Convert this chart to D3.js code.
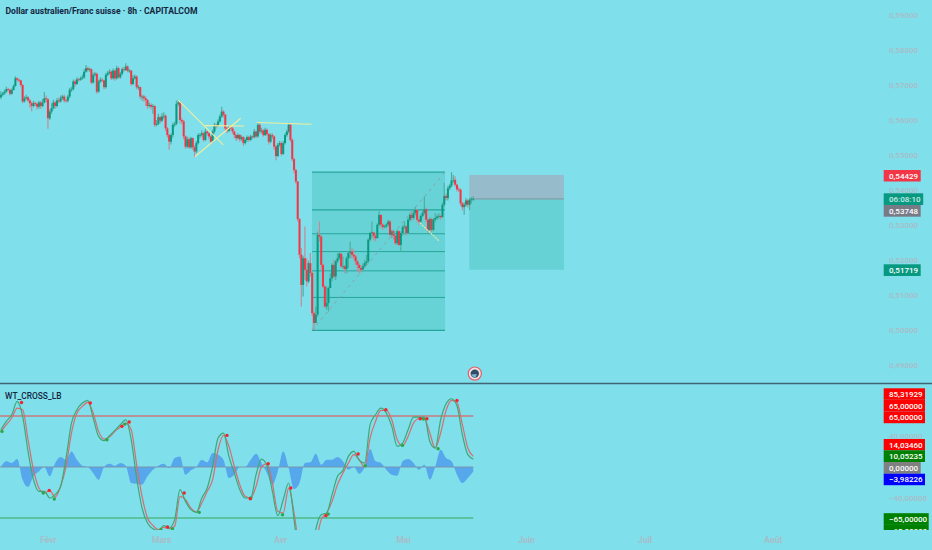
<!DOCTYPE html>
<html>
<head>
<meta charset="utf-8">
<script src="https://d3js.org/d3.v7.min.js"></script>
<style>
  html, body { margin: 0; padding: 0; background: #7fdfeb; overflow: hidden; }
  text { font-family: Roboto, "Open Sans", sans-serif; }
</style>
</head>
<body>
<svg id="chart" width="932" height="550"></svg>
<script>
// candles, one per 8h, open is the previous close
const firstOpen = .5665;
const closes = [
  .5672,.5676,.5681,.5688,.5686,.5675,.5686,.5697,.5719,.5715,.5713,.5700,.5653,.5662,.5665,.5656,.5648,.5640,.5648,.5646,
  .5638,.5650,.5640,.5650,.5662,.5659,.5605,.5624,.5634,.5650,.5640,.5656,.5653,.5662,.5667,.5656,.5655,.5667,.5686,.5688,
  .5710,.5703,.5716,.5715,.5719,.5722,.5738,.5748,.5743,.5745,.5707,.5729,.5732,.5681,.5710,.5715,.5713,.5694,.5729,.5734,
  .5738,.5719,.5741,.5719,.5748,.5722,.5732,.5745,.5743,.5753,.5741,.5741,.5703,.5719,.5724,.5694,.5694,.5667,.5667,.5662,
  .5657,.5640,.5643,.5638,.5640,.5586,.5589,.5608,.5598,.5610,.5612,.5576,.5557,.5538,.5557,.5586,.5589,.5646,.5650,.5600,
  .5596,.5553,.5524,.5545,.5522,.5548,.5522,.5510,.5534,.5557,.5557,.5562,.5543,.5567,.5562,.5553,.5538,.5567,.5586,.5583,
  .5596,.5610,.5624,.5615,.5576,.5569,.5579,.5576,.5567,.5557,.5548,.5557,.5545,.5551,.5534,.5543,.5551,.5543,.5553,.5551,
  .5567,.5553,.5586,.5567,.5570,.5557,.5572,.5560,.5538,.5557,.5553,.5524,.5497,.5529,.5534,.5503,.5534,.5557,.5567,.5586,
  .5543,.5488,.5457,.5424,.5317,.5215,.5129,.5205,.5172,.5139,.5191,.5163,.5048,.5020,.5044,.5272,.5267,.5186,.5124,.5067,
  .5077,.5120,.5148,.5186,.5153,.5196,.5205,.5218,.5182,.5182,.5174,.5205,.5220,.5224,.5215,.5210,.5196,.5186,.5177,.5172,
  .5182,.5191,.5196,.5258,.5277,.5279,.5269,.5262,.5301,.5329,.5301,.5294,.5296,.5301,.5310,.5272,.5282,.5269,.5248,.5282,
  .5243,.5277,.5294,.5296,.5277,.5315,.5329,.5320,.5334,.5343,.5315,.5310,.5326,.5334,.5345,.5315,.5286,.5317,.5286,.5315,
  .5320,.5324,.5326,.5322,.5358,.5383,.5377,.5405,.5412,.5427,.5429,.5415,.5402,.5401,.5362,.5351,.5358,.5370,.5358,.5372,
  .5374,.5375
];
const highs = [
  .5682,.5680,.5687,.5695,.5692,.5690,.5690,.5702,.5725,.5722,.5718,.5715,.5702,.5668,.5672,.5668,.5660,.5652,.5655,.5652,
  .5650,.5655,.5654,.5660,.5680,.5670,.5662,.5630,.5648,.5658,.5655,.5662,.5665,.5670,.5672,.5672,.5660,.5672,.5692,.5695,
  .5716,.5715,.5722,.5720,.5724,.5730,.5745,.5757,.5752,.5750,.5748,.5735,.5738,.5736,.5716,.5722,.5720,.5716,.5735,.5740,
  .5745,.5742,.5747,.5744,.5755,.5752,.5738,.5750,.5752,.5762,.5756,.5746,.5743,.5728,.5730,.5728,.5700,.5696,.5672,.5672,
  .5668,.5660,.5650,.5648,.5646,.5642,.5600,.5618,.5612,.5620,.5622,.5616,.5580,.5560,.5562,.5592,.5596,.5655,.5658,.5652,
  .5606,.5600,.5556,.5552,.5550,.5552,.5550,.5528,.5540,.5562,.5563,.5570,.5565,.5575,.5570,.5565,.5556,.5572,.5592,.5590,
  .5602,.5616,.5638,.5628,.5618,.5580,.5585,.5584,.5580,.5570,.5560,.5562,.5560,.5556,.5554,.5548,.5556,.5555,.5558,.5556,
  .5574,.5570,.5594,.5590,.5578,.5574,.5578,.5576,.5562,.5562,.5562,.5556,.5528,.5534,.5540,.5538,.5540,.5562,.5572,.5592,
  .5590,.5548,.5492,.5460,.5426,.5320,.5234,.5212,.5296,.5205,.5198,.5220,.5167,.5052,.5067,.5281,.5310,.5270,.5190,.5128,
  .5124,.5124,.5162,.5191,.5201,.5201,.5220,.5224,.5220,.5210,.5186,.5210,.5224,.5253,.5234,.5229,.5215,.5201,.5191,.5186,
  .5191,.5201,.5215,.5262,.5281,.5310,.5281,.5277,.5305,.5339,.5329,.5305,.5301,.5305,.5315,.5314,.5287,.5286,.5272,.5287,
  .5286,.5282,.5300,.5310,.5300,.5320,.5335,.5340,.5343,.5352,.5346,.5318,.5330,.5340,.5381,.5350,.5318,.5322,.5320,.5320,
  .5334,.5330,.5334,.5330,.5364,.5421,.5390,.5412,.5418,.5451,.5443,.5439,.5418,.5408,.5404,.5366,.5364,.5377,.5374,.5378,
  .5380,.5382
];
const lows = [
  .5660,.5668,.5672,.5678,.5682,.5670,.5672,.5684,.5695,.5710,.5708,.5695,.5648,.5650,.5658,.5652,.5635,.5625,.5636,.5640,
  .5630,.5632,.5632,.5636,.5648,.5650,.5575,.5600,.5618,.5630,.5632,.5636,.5648,.5650,.5658,.5650,.5650,.5650,.5662,.5680,
  .5684,.5695,.5700,.5710,.5712,.5715,.5718,.5735,.5738,.5738,.5702,.5704,.5724,.5675,.5678,.5706,.5708,.5688,.5690,.5725,
  .5730,.5714,.5716,.5712,.5716,.5718,.5718,.5728,.5738,.5740,.5736,.5735,.5698,.5700,.5716,.5688,.5686,.5660,.5655,.5652,
  .5640,.5632,.5636,.5630,.5618,.5580,.5582,.5585,.5590,.5594,.5602,.5568,.5550,.5515,.5530,.5550,.5580,.5585,.5640,.5590,
  .5588,.5545,.5518,.5520,.5518,.5518,.5515,.5494,.5505,.5530,.5548,.5552,.5538,.5540,.5555,.5546,.5532,.5535,.5562,.5576,
  .5580,.5592,.5606,.5608,.5570,.5562,.5565,.5570,.5560,.5548,.5540,.5544,.5538,.5540,.5526,.5530,.5538,.5538,.5540,.5546,
  .5548,.5548,.5550,.5560,.5562,.5552,.5554,.5555,.5530,.5534,.5546,.5515,.5485,.5494,.5524,.5498,.5500,.5530,.5552,.5562,
  .5538,.5482,.5448,.5418,.5310,.5205,.5067,.5096,.5143,.5124,.5134,.5153,.5041,.5000,.5034,.5038,.5253,.5172,.5120,.5063,
  .5058,.5053,.5124,.5139,.5148,.5143,.5191,.5201,.5177,.5174,.5162,.5162,.5177,.5205,.5205,.5201,.5186,.5167,.5162,.5164,
  .5167,.5177,.5186,.5191,.5253,.5262,.5256,.5253,.5277,.5296,.5291,.5286,.5291,.5291,.5296,.5267,.5262,.5258,.5243,.5243,
  .5239,.5224,.5270,.5288,.5270,.5274,.5310,.5312,.5315,.5328,.5308,.5300,.5306,.5322,.5330,.5308,.5278,.5282,.5280,.5282,
  .5308,.5315,.5318,.5316,.5347,.5352,.5370,.5370,.5400,.5408,.5420,.5410,.5396,.5394,.5355,.5342,.5329,.5352,.5350,.5343,
  .5362,.5368
];

// oscillator, one sample every third bar
const wtStep = 3;
const wt1 = [
  47.5,58.1,66.6,83.6,64.5,19.9,-16.2,-31,-31,-39.5,-35.3,-24.7,11.4,56,73,81.5,84.9,62.4,39,33.5,
  39.9,46.7,53.9,60.2,34.8,-14,-52.3,-71.4,-78.6,-80.7,-74.8,-77.8,-67.1,-28.9,-43.8,-54.4,-57.8,-39.5,-26.8,0.8,
  36.9,43.3,13.5,-7.7,-28.9,-39.5,-39.5,-9.8,10.1,1.7,-31,-62,-41.7,-20.4,-67.1,-126.6,-152,-126.6,-79.9,-60.8,
  -58.6,-35.3,-11.9,-4.3,13.5,19.9,8.4,5,53.9,66.6,75.1,68.7,51.8,26.3,30.5,47.5,63.6,63.6,63.6,32.6,
  24.2,60.2,80.6,87,78.1,41.1,15.7,10.1
];
const wt2 = [
  45.4,53.9,62.4,75.1,73,34.8,-3.4,-26.8,-33.2,-30.2,-38.3,-24.7,0.8,43.3,68.7,77.2,82.3,68.7,45.4,35.6,
  38.2,45.4,50.9,56,47.5,2.9,-37.4,-65,-74.4,-79.9,-76.9,-78.6,-75.6,-37.4,-41.7,-52.3,-57.4,-45.9,-31,-16.2,
  22,40.3,26.3,0.8,-22.5,-37.4,-39.5,-24.7,0,4.2,-20.4,-56.5,-58.6,-26.8,-58.6,-109.6,-152,-143.6,-101.1,-67.1,
  -58.6,-43.8,-22.5,-7.7,5,15.7,9.3,0,36.9,58.1,72.1,72.1,60.2,34.8,27.1,39,56,61.5,61.5,43.3,
  24.2,43.3,72.1,84.9,82.3,53.9,24.2,13.5
];
const wtHist = [
  0,7.2,5.1,10.1,-16.2,-25.5,-11.9,-5.6,0,-11.9,5.1,12.7,9.3,19.9,9.3,1.7,0,-7.7,-16.2,0,
  4.2,1.7,5.1,1.7,-20.4,-21.3,-22.5,-11.9,-3.4,1.7,4.2,-1.3,11.4,13.5,-9.8,-4.3,0,9.3,5.9,17.8,
  15.7,9.3,-14,-9.8,0,0,9.3,17,5.1,-7.7,-22.5,-5.6,19.9,-1.3,-28.1,-20.4,5.1,5.9,17,2.9,
  9.3,9.3,12.7,7.2,-3.4,0,-8.5,0,22.9,7.2,5.1,-3.4,-9.8,-11.1,7.2,10.1,5.1,-3.4,2.9,-16.2,
  0,22,11.4,7.2,-9.8,-20.4,-14,-5.6
];
const redDotBars = [11.4,26.7,49.4,66.9,70.9,92.1,101.3,124.9,137.8,147.7,160.2,179.6,197.4,212.7,231.7,235.4,252];
const redDotValues = [82.3,-29.8,81.5,51.8,57.3,-76.5,-33.2,40.3,-40.4,4.2,-26.8,-62,16.5,73,61.5,61.5,84.9];
const greenDotBars = [0.6,23.4,29.5,58.6,68.5,88.4,94.8,109.6,138.1,155.6,180.9,201.3,221.9,233.5,241.6];
const greenDotValues = [45.4,-33.2,-40.8,34.8,54.7,-79.9,-78.6,-57.8,-39.5,-60.8,-60,1.7,27.5,61.1,23.3];

// drawings
const fibBars = [171.9, 245.4];
const fibLevels = [.5451, .5343, .5275, .5224, .5169, .5093, .4999];
const positionBars = [258.8, 311.1];
const positionPrices = [.54429, .53748, .51719];
const yellowLines = [
  { bars: [98, 122.9], prices: [.5657, .5529] },
  { bars: [107.2, 132.5], prices: [.5495, .5605] },
  { bars: [112.8, 134.3], prices: [.5584, .5583] },
  { bars: [141.3, 171.7], prices: [.5593, .5588] }
];
const dashedYellowBars = [231.5, 242];
const dashedYellowPrices = [.5306, .5255];

// axes
const priceTicks = [.59,.58,.57,.56,.55,.54,.53,.52,.51,.50,.49];
const wtTicks = [40, -40];
const monthBars = [26, 88.6, 154.3, 222.2, 290.2, 355.6, 426.6];
const monthLabels = ["Févr", "Mars", "Avr", "Mai", "Juin", "Juil", "Août"];

const red = "#f23645", teal = "#089981";
const axisGrey = "#a9bcc8";
const svg = d3.select("#chart");

const x = d3.scaleLinear().domain([0, 515]).range([0.9, 932.9]);
const y = d3.scaleLinear().domain([.49, .59]).range([365, 15]);
const yWt = d3.scaleLinear().domain([-65, 65]).range([518, 416]);

svg.append("rect").attr("width", 932).attr("height", 550).attr("fill", "#7fdfeb");

const defs = svg.append("defs");
defs.append("clipPath").attr("id", "pricePane").append("rect").attr("width", 932).attr("height", 383);
defs.append("clipPath").attr("id", "wtPane").append("rect").attr("y", 384).attr("width", 880).attr("height", 146);
defs.append("clipPath").attr("id", "tagPane").append("rect").attr("x", 880).attr("y", 384).attr("width", 52).attr("height", 146);

// axis labels go first, the price tags cover them
const priceAxis = svg.append("g")
    .attr("transform", "translate(889,0)")
    .call(d3.axisRight(y).tickValues(priceTicks).tickSize(0).tickFormat(d => d3.format(".5f")(d).replace(".", ",")));
priceAxis.select(".domain").remove();
priceAxis.selectAll("text").attr("x", 0).style("font-size", "8px").style("font-weight", 500).style("fill", axisGrey);

const wtAxis = svg.append("g")
    .attr("transform", "translate(889,0)")
    .call(d3.axisRight(yWt).tickValues(wtTicks).tickSize(0).tickFormat(d => d3.format(".5f")(d).replace(".", ",").replace("-", "−")));
wtAxis.select(".domain").remove();
wtAxis.selectAll("text").attr("x", 0).style("font-size", "8px").style("font-weight", 500).style("fill", axisGrey);

const timeAxis = svg.append("g")
    .attr("transform", "translate(0,535)")
    .call(d3.axisBottom(x).tickValues(monthBars).tickSize(0).tickFormat((d, i) => monthLabels[i]));
timeAxis.select(".domain").remove();
timeAxis.selectAll("text").attr("y", 2).style("font-size", "8.5px").style("font-weight", 700).style("fill", axisGrey);

// fib and position fills sit under the candles
const pricePane = svg.append("g").attr("clip-path", "url(#pricePane)");

pricePane.append("rect")
    .attr("x", x(fibBars[0]))
    .attr("y", y(fibLevels[0]))
    .attr("width", x(fibBars[1]) - x(fibBars[0]))
    .attr("height", y(fibLevels[6]) - y(fibLevels[0]))
    .attr("fill", "#67d3d6");

pricePane.append("rect")
    .attr("x", x(positionBars[0]))
    .attr("y", y(positionPrices[0]))
    .attr("width", x(positionBars[1]) - x(positionBars[0]))
    .attr("height", y(positionPrices[1]) - y(positionPrices[0]))
    .attr("fill", "#96bccb");

pricePane.append("rect")
    .attr("x", x(positionBars[0]))
    .attr("y", y(positionPrices[1]))
    .attr("width", x(positionBars[1]) - x(positionBars[0]))
    .attr("height", y(positionPrices[2]) - y(positionPrices[1]))
    .attr("fill", "#66d2d6");

pricePane.selectAll(".fib-line")
    .data(fibLevels)
    .join("line")
    .attr("class", "fib-line")
    .attr("x1", x(fibBars[0]))
    .attr("x2", x(fibBars[1]))
    .attr("y1", d => y(d))
    .attr("y2", d => y(d))
    .attr("stroke", "#26a69a")
    .attr("stroke-width", (d, i) => (i === 0 || i === 1 || i === 6) ? 1.3 : 1);

pricePane.append("line")
    .attr("x1", x(positionBars[0]))
    .attr("x2", x(positionBars[1]))
    .attr("y1", y(positionPrices[1]))
    .attr("y2", y(positionPrices[1]))
    .attr("stroke", "#8a9aa6")
    .attr("stroke-width", 1.2);

// candles
const opens = closes.map((c, i) => i === 0 ? firstOpen : closes[i - 1]);
const candleColor = i => closes[i] >= opens[i] ? teal : red;

pricePane.selectAll(".wick")
    .data(closes)
    .join("line")
    .attr("class", "wick")
    .attr("x1", (d, i) => x(i))
    .attr("x2", (d, i) => x(i))
    .attr("y1", (d, i) => y(highs[i]))
    .attr("y2", (d, i) => y(lows[i]))
    .attr("stroke", (d, i) => closes[i] >= opens[i] ? "#4fae9f" : "#c58a98")
    .attr("stroke-width", 1.2);

pricePane.selectAll(".body")
    .data(closes)
    .join("rect")
    .attr("class", "body")
    .attr("x", (d, i) => x(i) - 1)
    .attr("width", 2)
    .attr("y", (d, i) => y(Math.max(opens[i], closes[i])))
    .attr("height", (d, i) => Math.max(0.8, Math.abs(y(opens[i]) - y(closes[i]))))
    .attr("fill", (d, i) => candleColor(i));

// drawings on top of the candles
pricePane.append("line")
    .attr("x1", x(fibBars[0]))
    .attr("y1", y(fibLevels[6]))
    .attr("x2", x(fibBars[1]))
    .attr("y2", y(fibLevels[0]))
    .attr("stroke", "#8f9ea8")
    .attr("stroke-width", 1)
    .attr("stroke-dasharray", "3,4");

yellowLines.forEach(l => {
    pricePane.append("line")
        .attr("x1", x(l.bars[0]))
        .attr("y1", y(l.prices[0]))
        .attr("x2", x(l.bars[1]))
        .attr("y2", y(l.prices[1]))
        .attr("stroke", "#f2ee9c")
        .attr("stroke-width", 1.1);
});

pricePane.append("line")
    .attr("x1", x(dashedYellowBars[0]))
    .attr("y1", y(dashedYellowPrices[0]))
    .attr("x2", x(dashedYellowBars[1]))
    .attr("y2", y(dashedYellowPrices[1]))
    .attr("stroke", "#f2ee9c")
    .attr("stroke-width", 1.1)
    .attr("stroke-dasharray", "2,1");

// oscillator pane
const wtPane = svg.append("g").attr("clip-path", "url(#wtPane)");
const sampleBar = i => i * wtStep;

wtPane.append("path")
    .datum(wtHist)
    .attr("fill", "#4f9dec")
    .attr("fill-opacity", 0.85)
    .attr("d", d3.area()
        .x((d, i) => x(sampleBar(i)))
        .y0(yWt(0))
        .y1(d => yWt(d))
        .curve(d3.curveMonotoneX));

const zeroEnd = sampleBar(wt1.length - 1);
[
    { value: 65, color: "#ef4848" },
    { value: 0, color: "#7b95ad" },
    { value: -65, color: "#37a856" }
].forEach(l => {
    wtPane.append("line")
        .attr("x1", 0)
        .attr("x2", x(zeroEnd))
        .attr("y1", yWt(l.value))
        .attr("y2", yWt(l.value))
        .attr("stroke", l.color)
        .attr("stroke-width", 1.1);
});

const wtLine = d3.line()
    .x((d, i) => x(sampleBar(i)))
    .y(d => yWt(d))
    .curve(d3.curveMonotoneX);

wtPane.append("path").datum(wt2).attr("fill", "none").attr("stroke", "#dc6a72").attr("stroke-width", 1.2).attr("d", wtLine);
wtPane.append("path").datum(wt1).attr("fill", "none").attr("stroke", "#3fa876").attr("stroke-width", 1.2).attr("d", wtLine);

wtPane.selectAll(".green-dot")
    .data(greenDotBars)
    .join("circle")
    .attr("class", "green-dot")
    .attr("cx", d => x(d))
    .attr("cy", (d, i) => yWt(greenDotValues[i]))
    .attr("r", 1.7)
    .attr("fill", "#2aa84a");

wtPane.selectAll(".red-dot")
    .data(redDotBars)
    .join("circle")
    .attr("class", "red-dot")
    .attr("cx", d => x(d))
    .attr("cy", (d, i) => yWt(redDotValues[i]))
    .attr("r", 1.7)
    .attr("fill", "#f5222d");

// separator between panes
svg.append("line")
    .attr("x1", 0).attr("x2", 932)
    .attr("y1", 383.5).attr("y2", 383.5)
    .attr("stroke", "#3f6672")
    .attr("stroke-width", 1.5);

// titles
svg.append("text")
    .attr("x", 5.5).attr("y", 14)
    .style("font-size", "8.6px")
    .style("font-weight", 700)
    .style("fill", "#14263f")
    .text("Dollar australien/Franc suisse · 8h · CAPITALCOM");

svg.append("text")
    .attr("x", 5).attr("y", 398.5)
    .style("font-size", "8.4px")
    .style("font-weight", 500)
    .style("fill", "#14263f")
    .text("WT_CROSS_LB");

// price tags
function tag(parent, x0, width, yTop, height, color, label, textColor) {
    parent.append("rect")
        .attr("x", x0).attr("y", yTop)
        .attr("width", width).attr("height", height)
        .attr("fill", color);
    parent.append("text")
        .attr("x", 889)
        .attr("y", yTop + height / 2 + 3)
        .style("font-size", "8px")
        .style("font-weight", 500)
        .style("fill", textColor || "#ffffff")
        .text(label);
}

const priceTags = svg.append("g");
tag(priceTags, 883.7, 37, 170, 11.5, red, "0,54429");
tag(priceTags, 883.7, 39.5, 193.3, 11.7, teal, "06:08:10", "#c9ece6");
tag(priceTags, 883.7, 37, 205, 11.7, "#787b86", "0,53748");
tag(priceTags, 883.7, 37, 264.3, 11.7, teal, "0,51719");

const wtTags = svg.append("g").attr("clip-path", "url(#tagPane)");
tag(wtTags, 883.7, 41.3, 388.3, 11.5, "#ff0000", "85,31929");
tag(wtTags, 883.7, 41.3, 399.8, 11.7, "#ff0000", "65,00000");
tag(wtTags, 883.7, 41.3, 411.5, 11.7, "#ff0000", "65,00000");
tag(wtTags, 883.7, 41.3, 439, 11.3, "#ff0000", "14,03460");
tag(wtTags, 883.7, 41.3, 450.3, 11.7, "#008000", "10,05235");
tag(wtTags, 883.7, 37, 462, 11.7, "#808080", "0,00000");
tag(wtTags, 883.7, 41.3, 473.7, 11.5, "#0000ff", "−3,98226");
tag(wtTags, 883.7, 45, 513.2, 11.7, "#008000", "−65,00000");
tag(wtTags, 883.7, 45, 524.9, 11.7, "#008000", "−65,00000");

// small replay marker under the price pane
const marker = svg.append("g").attr("transform", "translate(474.8,373.6)");
marker.append("circle").attr("r", 6.6).attr("fill", "#f3dfe2").attr("stroke", "#e2606c").attr("stroke-width", 1.2);
marker.append("circle").attr("r", 4.2).attr("fill", "#2b5068");
marker.append("path").attr("d", "M-3.5,1 A3.6,3.6 0 0 0 1,3.4 L2,0.5 Z").attr("fill", "#7fb4c8");
</script>
</body>
</html>
